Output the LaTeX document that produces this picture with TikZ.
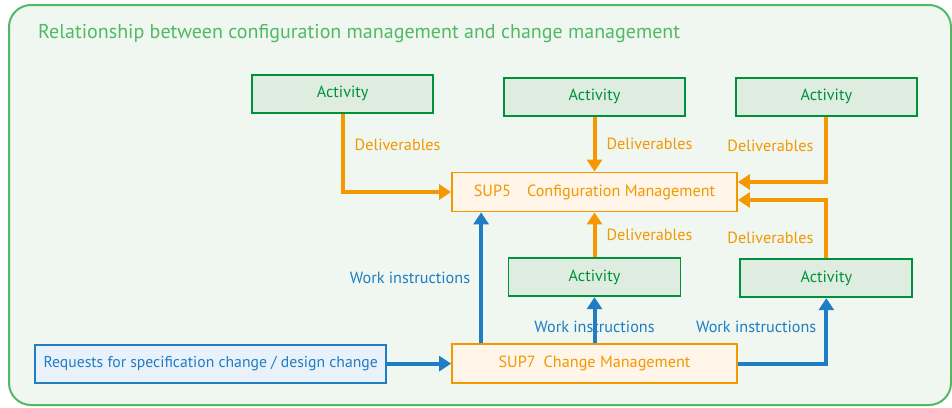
\documentclass[tikz,border=0pt]{standalone}
\usepackage{fontspec}
\setmainfont{PT Sans}
\usetikzlibrary{arrows.meta, positioning, calc}

\definecolor{cmorange}{RGB}{243,152,0}
\definecolor{cmblue}{RGB}{30,125,195}
\definecolor{cmgreen}{RGB}{0,145,60}
\definecolor{cmlightgreen}{RGB}{80,185,100}
\definecolor{cmactfill}{RGB}{222,237,224}
\definecolor{cmbgfill}{RGB}{240,247,240}
\definecolor{cmsupfill}{RGB}{255,245,232}
\definecolor{cmreqfill}{RGB}{233,241,250}

\begin{document}
\begin{tikzpicture}[
    x=1pt, y=1pt,
    font=\fontsize{16.2}{18}\selectfont,
    activity/.style={rectangle, draw=cmgreen, line width=1.8pt, fill=cmactfill, text=cmgreen, minimum width=181pt, minimum height=38pt, inner sep=0pt},
    process/.style={rectangle, draw=cmorange, line width=1.8pt, fill=cmsupfill, text=cmorange, minimum width=285pt, minimum height=39pt, inner sep=0pt},
    request/.style={rectangle, draw=cmblue, line width=1.8pt, fill=cmreqfill, text=cmblue, minimum width=351pt, minimum height=38pt, inner sep=0pt},
    deliv/.style={draw=cmorange, line width=4pt, -{Triangle[length=12pt,width=15pt]}},
    instr/.style={draw=cmblue, line width=4pt, -{Triangle[length=12pt,width=15pt]}},
    dlabel/.style={text=cmorange, inner sep=0pt},
    wlabel/.style={text=cmblue, inner sep=0pt}
]
    \useasboundingbox (0,0) rectangle (952,-407);

    % Frame
    \draw[cmlightgreen, line width=2pt, fill=cmbgfill, rounded corners=22pt] (9,-5) rectangle (951,-405);
    \node[anchor=west, text=cmlightgreen, inner sep=0pt, font=\fontsize{20}{22}\selectfont] (title) at (38,-34) {Relationship between configuration management and change management};

    % Nodes
    \node[process] (sup5) at (594.5,-192) {SUP5\quad Configuration Management};
    \node[activity, above=55pt of sup5] (act2) {Activity};
    \node[activity, left=69pt of act2, yshift=3pt] (act1) {Activity};
    \node[activity, right=49pt of act2] (act3) {Activity};
    \node[activity, below=45pt of sup5, minimum width=172pt] (act4) {Activity};
    \node[activity, right=58pt of act4, yshift=-1pt, minimum width=172pt] (act5) {Activity};
    \node[process, below=46pt of act4] (sup7) {SUP7\enspace Change Management};
    \node[request, left=64pt of sup7, font=\fontsize{15.7}{18}\selectfont] (req) {Requests for specification change / design change};

    % Deliverables
    \path[deliv] (act1.south) |- node[dlabel, pos=0.2, right=10pt] {Deliverables} (sup5.west);
    \path[deliv] (act2) -- node[dlabel, right=10pt] {Deliverables} (sup5);
    \path[deliv] (act3.south) |- node[dlabel, pos=0.22, left=11pt] {Deliverables} ([yshift=10pt]sup5.east);
    \path[deliv] (act5.north) |- node[dlabel, pos=0.18, left=11pt] {Deliverables} ([yshift=-8pt]sup5.east);
    \path[deliv] (act4) -- node[dlabel, right=10pt] {Deliverables} (sup5);

    % Work instructions
    \path[instr] ([xshift=30pt]sup7.north west) -- node[wlabel, left=9pt] {Work instructions} ([xshift=30pt]sup5.south west);
    \path[instr] (sup7) -- node[wlabel, pos=0.35] {Work instructions} (act4);
    \path[instr] (sup7.east) -| node[wlabel, pos=0.78, left=8pt] {Work instructions} (act5.south);
    \path[instr] (req) -- (sup7);
\end{tikzpicture}
\end{document}
